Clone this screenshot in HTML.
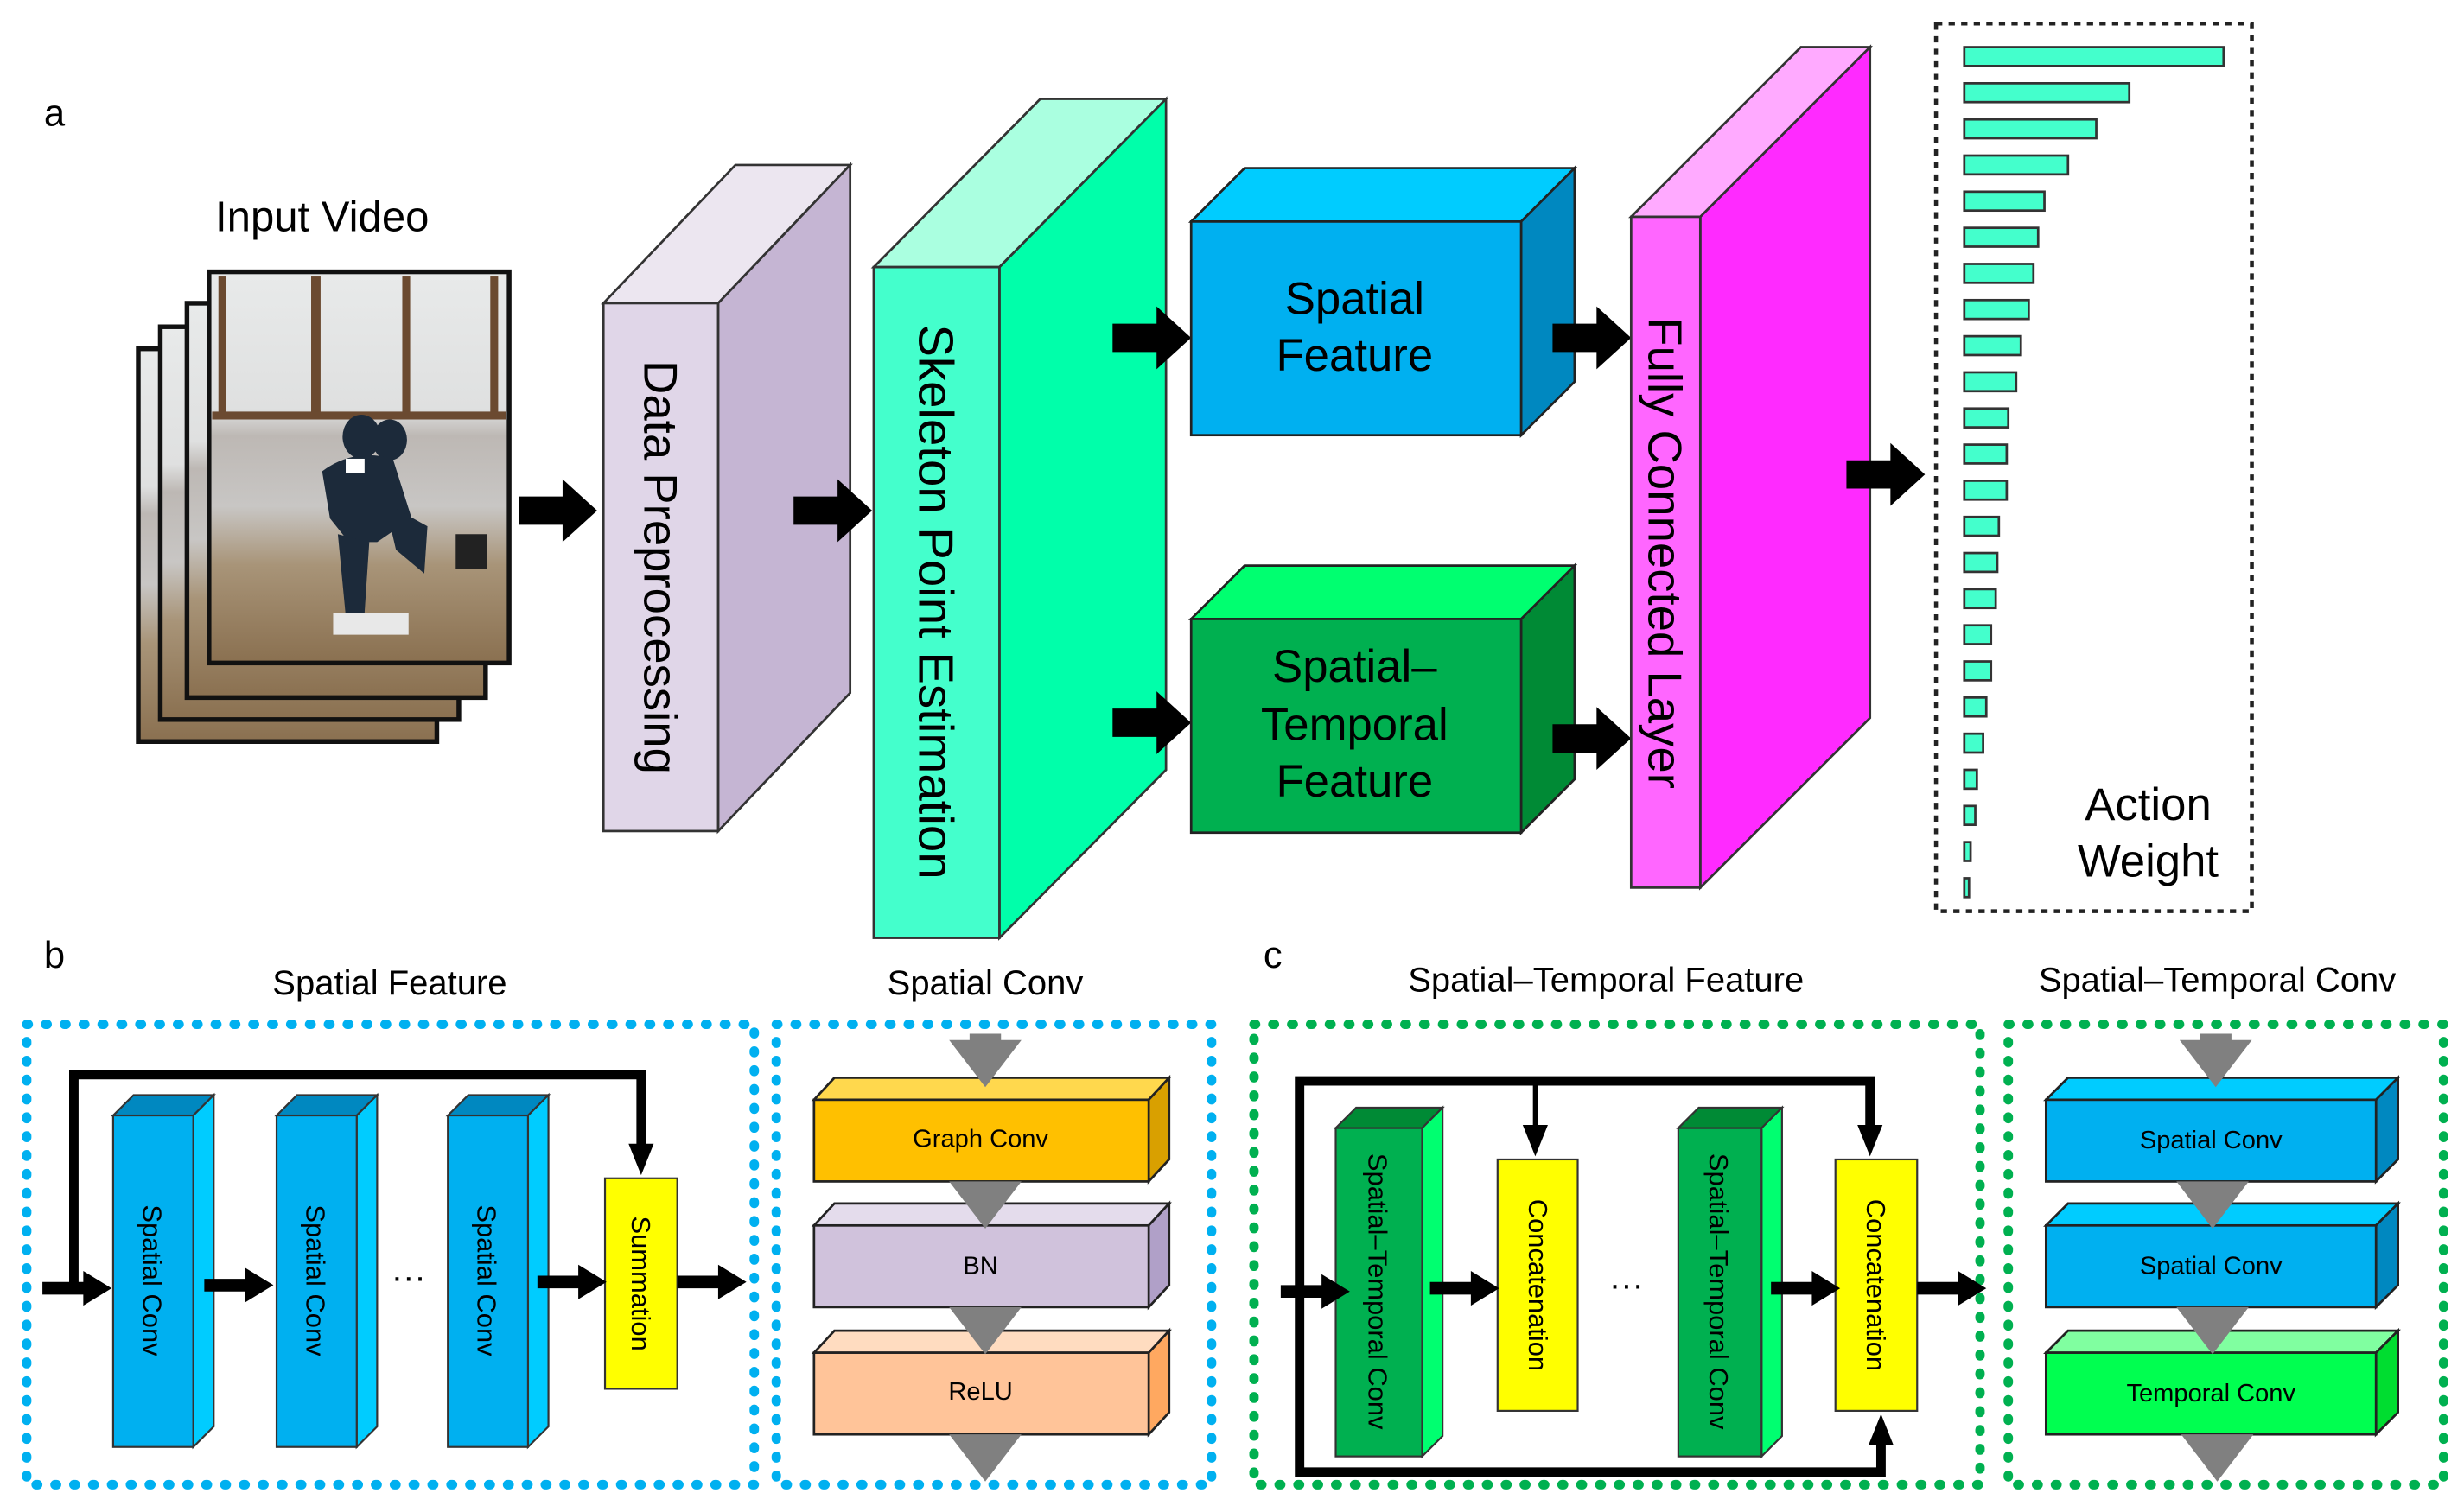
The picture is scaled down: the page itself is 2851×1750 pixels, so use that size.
<!DOCTYPE html>
<html><head><meta charset="utf-8"><style>
html,body{margin:0;padding:0;background:#fff;}
svg{display:block;}
text{font-family:"Liberation Sans",sans-serif;fill:#000;}
</style></head><body>
<svg width="2851" height="1750" viewBox="0 0 1568 962.4" preserveAspectRatio="none" xmlns="http://www.w3.org/2000/svg">
<defs>
<linearGradient id="ph" x1="0" y1="0" x2="0" y2="1">
<stop offset="0" stop-color="#e8eaea"/><stop offset="0.35" stop-color="#dfe0e0"/><stop offset="0.42" stop-color="#bdb8b4"/><stop offset="0.6" stop-color="#c8c6c4"/><stop offset="0.75" stop-color="#a89478"/><stop offset="1" stop-color="#8a7050"/>
</linearGradient>
<path id="ba" d="M0,-9 H28 V-20 L50,0 L28,20 V9 H0 Z"/>
<path id="sa" d="M0,-4 H26 V-11 L44,0 L26,11 V4 H0 Z"/>
<path id="gt" d="M-23,0 H23 L0,30 Z"/>
</defs>

<!-- Panel a -->
<text x="28" y="80" font-size="24">a</text>
<text x="205" y="147" font-size="27" text-anchor="middle">Input Video</text>

<rect x="88" y="222" width="190" height="250" fill="url(#ph)" stroke="#111" stroke-width="3"/>
<rect x="102" y="208" width="190" height="250" fill="url(#ph)" stroke="#111" stroke-width="3"/>
<rect x="119" y="193" width="190" height="251" fill="url(#ph)" stroke="#111" stroke-width="3"/>
<rect x="133" y="173" width="191" height="249" fill="url(#ph)" stroke="#111" stroke-width="3"/>
<g fill="#6b4a30">
<rect x="139" y="176" width="5" height="90"/><rect x="198" y="176" width="6" height="90"/><rect x="256" y="176" width="5" height="90"/><rect x="312" y="176" width="5" height="90"/>
<rect x="135" y="262" width="187" height="5"/>
</g>
<g fill="#1c2a3a">
<ellipse cx="230" cy="278" rx="12" ry="14"/><ellipse cx="248" cy="280" rx="11" ry="13"/>
<path d="M205,300 Q225,285 250,292 L262,330 L240,345 L222,345 L210,330 Z"/>
<path d="M215,340 L235,345 L232,390 L220,392 Z"/>
<path d="M245,320 L272,335 L270,365 L252,350 Z"/>
</g>
<rect x="220" y="292" width="12" height="9" fill="#fff"/>
<rect x="290" y="340" width="20" height="22" fill="#222"/>
<rect x="212" y="390" width="48" height="14" fill="#e8e8e8"/>

<use href="#ba" x="330" y="325"/>

<!-- Data Preprocessing -->
<polygon points="384,193 457,193 541,105 468,105" fill="#ece6f0" stroke="#333" stroke-width="1.5"/>
<polygon points="457,193 541,105 541,441 457,529" fill="#c5b5d3" stroke="#333" stroke-width="1.5"/>
<rect x="384" y="193" width="73" height="336" fill="#e0d6e8" stroke="#333" stroke-width="1.5"/>
<text transform="translate(410,361) rotate(90)" font-size="30" text-anchor="middle">Data Preprocessing</text>

<use href="#ba" x="505" y="325"/>

<!-- Skeleton -->
<polygon points="556,170 636,170 742,63 662,63" fill="#aaffe0" stroke="#333" stroke-width="1.5"/>
<polygon points="636,170 742,63 742,490 636,597" fill="#00ffaa" stroke="#333" stroke-width="1.5"/>
<rect x="556" y="170" width="80" height="427" fill="#44ffcc" stroke="#333" stroke-width="1.5"/>
<text transform="translate(585,383) rotate(90)" font-size="31" text-anchor="middle">Skeleton Point Estimation</text>

<use href="#ba" x="708" y="215"/>
<use href="#ba" x="708" y="460"/>

<!-- Spatial Feature -->
<polygon points="758,141 968,141 1002,107 792,107" fill="#00ccff" stroke="#222" stroke-width="1.5"/>
<polygon points="968,141 1002,107 1002,243 968,277" fill="#0088c0" stroke="#222" stroke-width="1.5"/>
<rect x="758" y="141" width="210" height="136" fill="#00b0f0" stroke="#222" stroke-width="1.5"/>
<text x="862" y="200" font-size="29" text-anchor="middle">Spatial</text>
<text x="862" y="236" font-size="29" text-anchor="middle">Feature</text>

<!-- Spatial-Temporal Feature -->
<polygon points="758,394 968,394 1002,360 792,360" fill="#00ff70" stroke="#222" stroke-width="1.5"/>
<polygon points="968,394 1002,360 1002,496 968,530" fill="#008a35" stroke="#222" stroke-width="1.5"/>
<rect x="758" y="394" width="210" height="136" fill="#00b050" stroke="#222" stroke-width="1.5"/>
<text x="862" y="434" font-size="29" text-anchor="middle">Spatial–</text>
<text x="862" y="471" font-size="29" text-anchor="middle">Temporal</text>
<text x="862" y="507" font-size="29" text-anchor="middle">Feature</text>

<use href="#ba" x="988" y="215"/>
<use href="#ba" x="988" y="470"/>

<!-- FC -->
<polygon points="1038,138 1082,138 1190,30 1146,30" fill="#ffaaff" stroke="#333" stroke-width="1.5"/>
<polygon points="1082,138 1190,30 1190,457 1082,565" fill="#ff2aff" stroke="#333" stroke-width="1.5"/>
<rect x="1038" y="138" width="44" height="427" fill="#ff66ff" stroke="#333" stroke-width="1.5"/>
<text transform="translate(1049,352) rotate(90)" font-size="30" text-anchor="middle">Fully Connected Layer</text>

<use href="#ba" x="1175" y="302"/>

<!-- Action weight -->
<rect x="1232" y="15" width="201" height="565" fill="none" stroke="#222" stroke-width="2.5" stroke-dasharray="4 4"/>
<g fill="#44ffcc" stroke="#333" stroke-width="1.5">
<rect x="1250" y="30" width="165" height="12"/>
<rect x="1250" y="53" width="105" height="12"/>
<rect x="1250" y="76" width="84" height="12"/>
<rect x="1250" y="99" width="66" height="12"/>
<rect x="1250" y="122" width="51" height="12"/>
<rect x="1250" y="145" width="47" height="12"/>
<rect x="1250" y="168" width="44" height="12"/>
<rect x="1250" y="191" width="41" height="12"/>
<rect x="1250" y="214" width="36" height="12"/>
<rect x="1250" y="237" width="33" height="12"/>
<rect x="1250" y="260" width="28" height="12"/>
<rect x="1250" y="283" width="27" height="12"/>
<rect x="1250" y="306" width="27" height="12"/>
<rect x="1250" y="329" width="22" height="12"/>
<rect x="1250" y="352" width="21" height="12"/>
<rect x="1250" y="375" width="20" height="12"/>
<rect x="1250" y="398" width="17" height="12"/>
<rect x="1250" y="421" width="17" height="12"/>
<rect x="1250" y="444" width="14" height="12"/>
<rect x="1250" y="467" width="12" height="12"/>
<rect x="1250" y="490" width="8" height="12"/>
<rect x="1250" y="513" width="7" height="12"/>
<rect x="1250" y="536" width="4" height="12"/>
<rect x="1250" y="559" width="3" height="12"/>
</g>
<text x="1367" y="522" font-size="29" text-anchor="middle">Action</text>
<text x="1367" y="558" font-size="29" text-anchor="middle">Weight</text>

<!-- Panel b -->
<text x="28" y="616" font-size="24">b</text>
<text x="248" y="633" font-size="22" text-anchor="middle">Spatial Feature</text>
<text x="627" y="633" font-size="22" text-anchor="middle">Spatial Conv</text>
<g fill="none" stroke="#00b0f0" stroke-width="6" stroke-linecap="round" stroke-dasharray="1 11">
<rect x="17" y="652" width="463" height="293"/>
<rect x="494" y="652" width="277" height="293"/>
</g>

<g stroke="#333" stroke-width="1.2">
<g>
<polygon points="72,710 123,710 136,697 85,697" fill="#0088c0"/>
<polygon points="123,710 136,697 136,908 123,921" fill="#00ccff"/>
<rect x="72" y="710" width="51" height="211" fill="#00b0f0"/>
</g>
<g>
<polygon points="176,710 227,710 240,697 189,697" fill="#0088c0"/>
<polygon points="227,710 240,697 240,908 227,921" fill="#00ccff"/>
<rect x="176" y="710" width="51" height="211" fill="#00b0f0"/>
</g>
<g>
<polygon points="285,710 336,710 349,697 298,697" fill="#0088c0"/>
<polygon points="336,710 349,697 349,908 336,921" fill="#00ccff"/>
<rect x="285" y="710" width="51" height="211" fill="#00b0f0"/>
</g>
<rect x="385" y="750" width="46" height="134" fill="#ffff00"/>
</g>
<text transform="translate(91,815) rotate(90)" font-size="17" text-anchor="middle">Spatial Conv</text>
<text transform="translate(195,815) rotate(90)" font-size="17" text-anchor="middle">Spatial Conv</text>
<text transform="translate(304,815) rotate(90)" font-size="17" text-anchor="middle">Spatial Conv</text>
<text transform="translate(402,817) rotate(90)" font-size="17" text-anchor="middle">Summation</text>
<text x="260" y="820" font-size="22" text-anchor="middle">···</text>

<polyline points="47,820 47,684 408,684 408,730" fill="none" stroke="#000" stroke-width="6"/>
<polygon points="400,728 416,728 408,748" fill="#000"/>
<use href="#sa" x="27" y="820"/>
<use href="#sa" x="130" y="818"/>
<use href="#sa" x="342" y="816"/>
<use href="#sa" x="431" y="816"/>

<!-- Spatial Conv stack -->
<g stroke="#222" stroke-width="1.5">
<polygon points="518,700 731,700 744,686 531,686" fill="#ffd84d"/>
<polygon points="731,700 744,686 744,738 731,752" fill="#d9a000"/>
<rect x="518" y="700" width="213" height="52" fill="#ffc000"/>
<polygon points="518,780 731,780 744,766 531,766" fill="#e4dcec"/>
<polygon points="731,780 744,766 744,818 731,832" fill="#b0a0c8"/>
<rect x="518" y="780" width="213" height="52" fill="#d0c2dc"/>
<polygon points="518,861 731,861 744,847 531,847" fill="#ffdcc0"/>
<polygon points="731,861 744,847 744,899 731,913" fill="#ffa860"/>
<rect x="518" y="861" width="213" height="52" fill="#ffc499"/>
</g>
<g fill="#808080">
<rect x="617" y="658" width="20" height="10"/>
<use href="#gt" x="627" y="662"/>
<use href="#gt" x="627" y="752"/>
<use href="#gt" x="627" y="832"/>
<use href="#gt" x="627" y="913"/>
</g>
<text x="624" y="730" font-size="16" text-anchor="middle">Graph Conv</text>
<text x="624" y="811" font-size="16" text-anchor="middle">BN</text>
<text x="624" y="891" font-size="16" text-anchor="middle">ReLU</text>

<!-- Panel c -->
<text x="804" y="616" font-size="24">c</text>
<text x="1022" y="631" font-size="22" text-anchor="middle">Spatial–Temporal Feature</text>
<text x="1411" y="631" font-size="22" text-anchor="middle">Spatial–Temporal Conv</text>
<g fill="none" stroke="#00b050" stroke-width="6" stroke-linecap="round" stroke-dasharray="1 11">
<rect x="798" y="652" width="462" height="293"/>
<rect x="1278" y="652" width="277" height="293"/>
</g>

<g stroke="#333" stroke-width="1.2">
<polygon points="850,718 905,718 918,705 863,705" fill="#008a35"/>
<polygon points="905,718 918,705 918,914 905,927" fill="#00ff70"/>
<rect x="850" y="718" width="55" height="209" fill="#00b050"/>
<polygon points="1068,718 1121,718 1134,705 1081,705" fill="#008a35"/>
<polygon points="1121,718 1134,705 1134,914 1121,927" fill="#00ff70"/>
<rect x="1068" y="718" width="53" height="209" fill="#00b050"/>
<rect x="953" y="738" width="51" height="160" fill="#ffff00"/>
<rect x="1168" y="738" width="52" height="160" fill="#ffff00"/>
</g>
<text transform="translate(871,822) rotate(90)" font-size="17" text-anchor="middle">Spatial–Temporal Conv</text>
<text transform="translate(1088,822) rotate(90)" font-size="17" text-anchor="middle">Spatial–Temporal Conv</text>
<text transform="translate(973,818) rotate(90)" font-size="17" text-anchor="middle">Concatenation</text>
<text transform="translate(1188,818) rotate(90)" font-size="17" text-anchor="middle">Concatenation</text>
<text x="1035" y="825" font-size="22" text-anchor="middle">···</text>

<polyline points="1197,917 1197,937 827,937 827,688 1190,688 1190,720" fill="none" stroke="#000" stroke-width="6"/>
<line x1="977" y1="688" x2="977" y2="720" stroke="#000" stroke-width="3"/>
<polygon points="969,716 985,716 977,736" fill="#000"/>
<polygon points="1182,716 1198,716 1190,736" fill="#000"/>
<polygon points="1189,920 1205,920 1197,900" fill="#000"/>
<use href="#sa" x="815" y="822"/>
<use href="#sa" x="910" y="820"/>
<use href="#sa" x="1127" y="820"/>
<use href="#sa" x="1220" y="820"/>

<!-- ST Conv stack -->
<g stroke="#222" stroke-width="1.5">
<polygon points="1302,700 1512,700 1526,686 1316,686" fill="#00ccff"/>
<polygon points="1512,700 1526,686 1526,738 1512,752" fill="#0088c0"/>
<rect x="1302" y="700" width="210" height="52" fill="#00b0f0"/>
<polygon points="1302,780 1512,780 1526,766 1316,766" fill="#00ccff"/>
<polygon points="1512,780 1526,766 1526,818 1512,832" fill="#0088c0"/>
<rect x="1302" y="780" width="210" height="52" fill="#00b0f0"/>
<polygon points="1302,861 1512,861 1526,847 1316,847" fill="#80ffa0"/>
<polygon points="1512,861 1526,847 1526,899 1512,913" fill="#00dd30"/>
<rect x="1302" y="861" width="210" height="52" fill="#00ff50"/>
</g>
<g fill="#808080">
<rect x="1400" y="658" width="20" height="10"/>
<use href="#gt" x="1410" y="662"/>
<use href="#gt" x="1408" y="752"/>
<use href="#gt" x="1408" y="832"/>
<use href="#gt" x="1411" y="913"/>
</g>
<text x="1407" y="731" font-size="16" text-anchor="middle">Spatial Conv</text>
<text x="1407" y="811" font-size="16" text-anchor="middle">Spatial Conv</text>
<text x="1407" y="892" font-size="16" text-anchor="middle">Temporal Conv</text>
</svg>
</body></html>
